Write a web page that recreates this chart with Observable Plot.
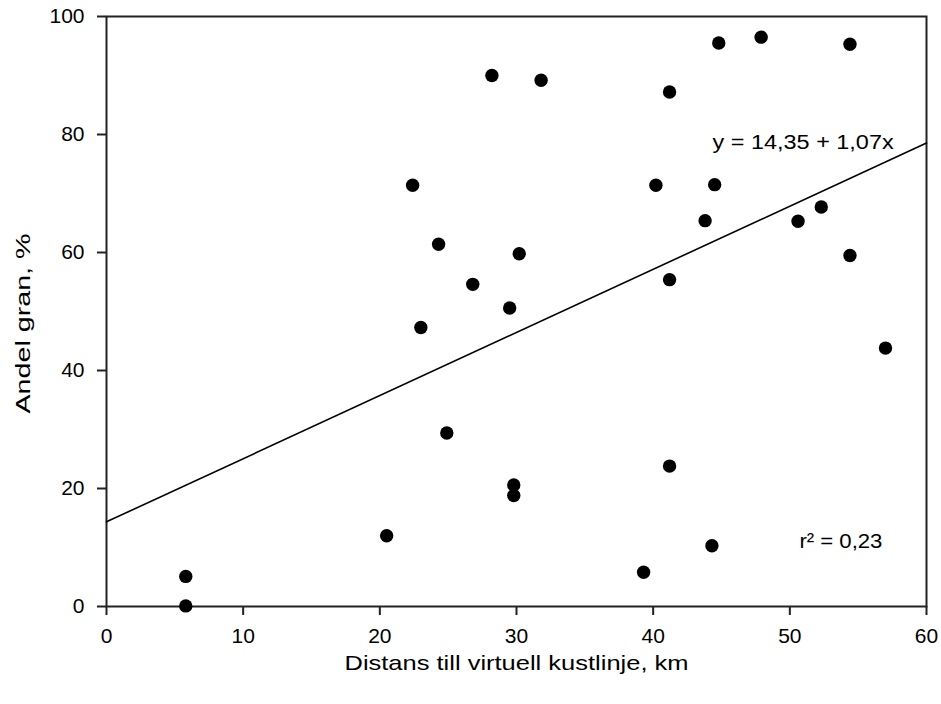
<!DOCTYPE html>
<html>
<head>
<meta charset="utf-8">
<script src="https://cdn.jsdelivr.net/npm/d3@7"></script>
<script src="https://cdn.jsdelivr.net/npm/@observablehq/plot@0.6"></script>
<style>
  html, body { margin: 0; padding: 0; background: #fff; }
  #chart { width: 941px; height: 704px; }
  text { font-family: "Liberation Sans", Arial, Helvetica, sans-serif; }
</style>
</head>
<body>
<div id="chart"></div>
<script>
// Data
const distansKm = [5.8, 5.8, 20.5, 22.4, 23.0, 24.3, 24.9, 26.8, 28.2, 29.5, 29.8, 29.8, 30.2, 31.8, 39.3, 40.2, 41.2, 41.2, 41.2, 43.8, 44.3, 44.5, 44.8, 47.9, 50.6, 52.3, 54.4, 54.4, 57.0];
const andelGran = [5.1, 0.1, 12.0, 71.4, 47.3, 61.4, 29.4, 54.6, 90.0, 50.6, 20.6, 18.8, 59.8, 89.2, 5.8, 71.4, 87.2, 55.4, 23.8, 65.4, 10.3, 71.5, 95.5, 96.5, 65.3, 67.7, 95.3, 59.5, 43.8];
const regression = [14.35, 1.07]; // intercept, slope
const xTicks = [0, 10, 20, 30, 40, 50, 60];
const yTicks = [0, 20, 40, 60, 80, 100];
const xDomain = [0, 60];
const yDomain = [0, 100];
const equationText = "y = 14,35 + 1,07x";
const r2Text = "r² = 0,23";
const xLabel = "Distans till virtuell kustlinje, km";
const yLabel = "Andel gran, %";

const points = distansKm.map((x, i) => ({x, y: andelGran[i]}));
const fitLine = xDomain.map(x => ({x, y: regression[0] + regression[1] * x}));

const chart = Plot.plot({
  width: 941,
  height: 704,
  marginLeft: 106,
  marginRight: 15,
  marginTop: 16,
  marginBottom: 98,
  style: {fontFamily: '"Liberation Sans", Arial, sans-serif', fontSize: "21px", color: "#000", background: "#fff"},
  x: {domain: xDomain, ticks: xTicks},
  y: {domain: yDomain, ticks: yTicks},
  marks: [
    Plot.frame({stroke: "#222", strokeWidth: 2}),
    Plot.axisX({ticks: xTicks, tickSize: 9, tickPadding: 13, tickFormat: d => String(d), fontSize: 21, stroke: "#222", strokeWidth: 2, label: null}),
    Plot.axisY({ticks: yTicks, tickSize: 9, tickPadding: 13, tickFormat: d => String(d), fontSize: 21, stroke: "#222", strokeWidth: 2, label: null}),
    Plot.line(fitLine, {x: "x", y: "y", stroke: "#000", strokeWidth: 1.6}),
    Plot.dot(points, {x: "x", y: "y", r: 6.7, fill: "#000", stroke: "none"}),
    Plot.text([equationText], {x: 44.35, y: 77.6, text: d => d, textAnchor: "start", lineAnchor: "bottom", fontSize: 20, fill: "#000"}),
    Plot.text([r2Text], {x: 50.7, y: 10.0, text: d => d, textAnchor: "start", lineAnchor: "bottom", fontSize: 20, fill: "#000"}),
    Plot.text([xLabel], {frameAnchor: "bottom", dx: -172, dy: 57, text: d => d, textAnchor: "start", lineAnchor: "middle", fontSize: 21, fill: "#000"}),
    Plot.text([yLabel], {frameAnchor: "left", rotate: -90, dx: -83, dy: 102, text: d => d, textAnchor: "start", lineAnchor: "middle", fontSize: 21, fill: "#000"})
  ]
});

// Match the stretched text extents of the reference
const lengths = new Map([[equationText, 181], [r2Text, 83], [xLabel, 344], [yLabel, 180]]);
d3.select(chart).selectAll("text").each(function() {
  const t = this.textContent;
  if (lengths.has(t)) {
    this.setAttribute("textLength", lengths.get(t));
    this.setAttribute("lengthAdjust", "spacingAndGlyphs");
  }
});
document.getElementById("chart").appendChild(chart);
</script>
</body>
</html>
